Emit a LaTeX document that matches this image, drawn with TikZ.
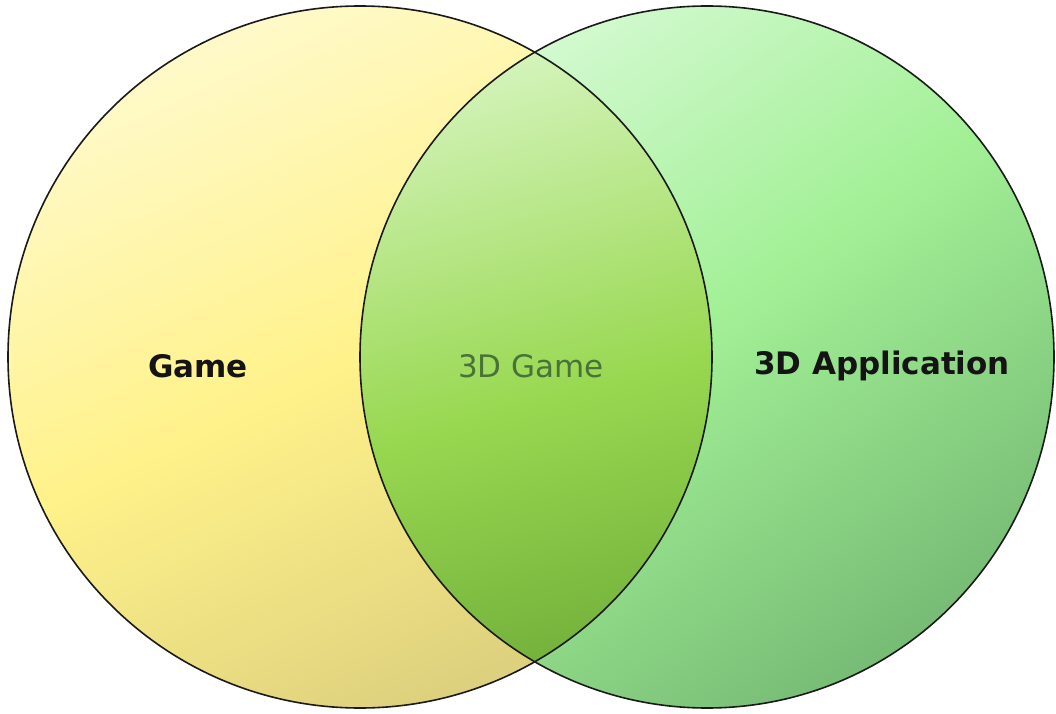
\documentclass[tikz,border=0pt]{standalone}
\usepackage{fontspec}
\setmainfont{DejaVu Sans}
\definecolor{gameTop}{HTML}{FFFCE0}
\definecolor{gameMid}{HTML}{FFF28A}
\definecolor{gameBot}{HTML}{D3C67A}
\definecolor{appTop}{HTML}{E6FDE6}
\definecolor{appMid}{HTML}{A2F096}
\definecolor{appBot}{HTML}{6CAE6C}
\definecolor{bothTop}{HTML}{E2FAD4}
\definecolor{bothMid}{HTML}{98D850}
\definecolor{bothBot}{HTML}{5C982E}
\definecolor{outline}{HTML}{1A1A1A}
\definecolor{bothText}{HTML}{4A7238}
% three-stop gradients, packed so that the full range falls inside each disc
\pgfdeclareverticalshading{gamegrad}{100bp}{color(0bp)=(gameBot); color(18bp)=(gameBot); color(50bp)=(gameMid); color(84bp)=(gameTop); color(100bp)=(gameTop)}
\pgfdeclareverticalshading{appgrad}{100bp}{color(0bp)=(appBot); color(18bp)=(appBot); color(52bp)=(appMid); color(84bp)=(appTop); color(100bp)=(appTop)}
\pgfdeclareverticalshading{bothgrad}{100bp}{color(0bp)=(bothBot); color(20bp)=(bothBot); color(50bp)=(bothMid); color(80bp)=(bothTop); color(100bp)=(bothTop)}
\tikzset{
  setlabel/.style={font=\fontsize{31}{31}\selectfont, inner sep=0pt},
  boldlabel/.style={setlabel, font=\bfseries\fontsize{31}{31}\selectfont, text=black!92},
  gameshade/.style={shading=gamegrad, shading angle=25},
  appshade/.style={shading=appgrad, shading angle=35},
  bothshade/.style={shading=bothgrad, shading angle=15},
  rim/.style={draw=outline, line width=1.6pt}
}
\begin{document}
\begin{tikzpicture}[x=1pt,y=1pt]
  \useasboundingbox (0,0) rectangle (1056,713);
  \fill[white] (0,0) rectangle (1056,713);
  % the two sets
  \shade[gameshade] (360,356) ellipse [x radius=352, y radius=351];
  \shade[appshade] (707,356) ellipse [x radius=347, y radius=351];
  % their overlap
  \begin{scope}
    \clip (360,356) ellipse [x radius=352, y radius=351];
    \shade[bothshade] (707,356) ellipse [x radius=347, y radius=351];
  \end{scope}
  % outlines
  \draw[rim] (360,356) ellipse [x radius=352, y radius=351];
  \draw[rim] (707,356) ellipse [x radius=347, y radius=351];
  % labels
  \node[boldlabel] (game) at (198,347) {Game};
  \node[setlabel, text=bothText] (both) at (531,347) {3D Game};
  \node[boldlabel] (app) at (882,347) {3D Application};
\end{tikzpicture}
\end{document}
